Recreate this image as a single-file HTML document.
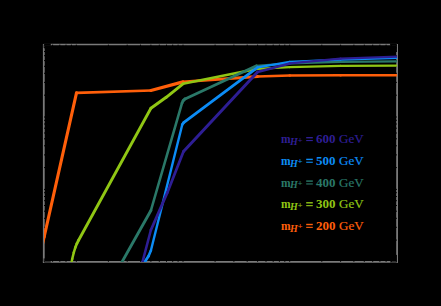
<!DOCTYPE html>
<html><head><meta charset="utf-8">
<style>
html,body{margin:0;padding:0;background:#000;width:441px;height:306px;overflow:hidden}
svg{display:block}
text{font-family:"Liberation Serif",serif}
.t{font-size:13px;font-weight:bold}
.g{font-size:13px;font-weight:normal;stroke-width:0.2;stroke:currentColor}
.m{font-size:11.5px;font-weight:bold}
.s{font-size:10px;font-style:italic;font-weight:bold}
.p{font-size:9px;font-weight:bold}
</style></head><body>
<svg width="441" height="306" viewBox="0 0 441 306">
<rect x="0" y="0" width="441" height="306" fill="#000"/>
<g fill="none" stroke="#7a7a7a">
<line x1="43.8" y1="44.0" x2="43.8" y2="262.79999999999995" stroke-width="1.8"/>
<line x1="397.1" y1="44.0" x2="397.1" y2="262.79999999999995" stroke-width="1.8"/>
<line x1="43.8" y1="44.5" x2="397.1" y2="44.5" stroke-width="1.4"/>
<line x1="42.9" y1="261.9" x2="398.0" y2="261.9" stroke-width="1.8"/>
</g><g stroke="#000" stroke-width="1">
<line x1="44.2" y1="261.79999999999995" x2="44.2" y2="258.4"/>
<line x1="44.2" y1="44.6" x2="44.2" y2="48.0"/>
<line x1="52.6" y1="261.79999999999995" x2="52.6" y2="258.4"/>
<line x1="52.6" y1="44.6" x2="52.6" y2="48.0"/>
<line x1="59.8" y1="261.79999999999995" x2="59.8" y2="258.4"/>
<line x1="59.8" y1="44.6" x2="59.8" y2="48.0"/>
<line x1="66.0" y1="261.79999999999995" x2="66.0" y2="258.4"/>
<line x1="66.0" y1="44.6" x2="66.0" y2="48.0"/>
<line x1="71.4" y1="261.79999999999995" x2="71.4" y2="258.4"/>
<line x1="71.4" y1="44.6" x2="71.4" y2="48.0"/>
<line x1="76.3" y1="261.79999999999995" x2="76.3" y2="254.9"/>
<line x1="76.3" y1="44.6" x2="76.3" y2="51.5"/>
<line x1="108.4" y1="261.79999999999995" x2="108.4" y2="258.4"/>
<line x1="108.4" y1="44.6" x2="108.4" y2="48.0"/>
<line x1="127.2" y1="261.79999999999995" x2="127.2" y2="258.4"/>
<line x1="127.2" y1="44.6" x2="127.2" y2="48.0"/>
<line x1="140.5" y1="261.79999999999995" x2="140.5" y2="258.4"/>
<line x1="140.5" y1="44.6" x2="140.5" y2="48.0"/>
<line x1="150.9" y1="261.79999999999995" x2="150.9" y2="258.4"/>
<line x1="150.9" y1="44.6" x2="150.9" y2="48.0"/>
<line x1="159.3" y1="261.79999999999995" x2="159.3" y2="258.4"/>
<line x1="159.3" y1="44.6" x2="159.3" y2="48.0"/>
<line x1="166.5" y1="261.79999999999995" x2="166.5" y2="258.4"/>
<line x1="166.5" y1="44.6" x2="166.5" y2="48.0"/>
<line x1="172.7" y1="261.79999999999995" x2="172.7" y2="258.4"/>
<line x1="172.7" y1="44.6" x2="172.7" y2="48.0"/>
<line x1="178.1" y1="261.79999999999995" x2="178.1" y2="258.4"/>
<line x1="178.1" y1="44.6" x2="178.1" y2="48.0"/>
<line x1="183.0" y1="261.79999999999995" x2="183.0" y2="254.9"/>
<line x1="183.0" y1="44.6" x2="183.0" y2="51.5"/>
<line x1="215.1" y1="261.79999999999995" x2="215.1" y2="258.4"/>
<line x1="215.1" y1="44.6" x2="215.1" y2="48.0"/>
<line x1="233.9" y1="261.79999999999995" x2="233.9" y2="258.4"/>
<line x1="233.9" y1="44.6" x2="233.9" y2="48.0"/>
<line x1="247.2" y1="261.79999999999995" x2="247.2" y2="258.4"/>
<line x1="247.2" y1="44.6" x2="247.2" y2="48.0"/>
<line x1="257.6" y1="261.79999999999995" x2="257.6" y2="258.4"/>
<line x1="257.6" y1="44.6" x2="257.6" y2="48.0"/>
<line x1="266.0" y1="261.79999999999995" x2="266.0" y2="258.4"/>
<line x1="266.0" y1="44.6" x2="266.0" y2="48.0"/>
<line x1="273.2" y1="261.79999999999995" x2="273.2" y2="258.4"/>
<line x1="273.2" y1="44.6" x2="273.2" y2="48.0"/>
<line x1="279.4" y1="261.79999999999995" x2="279.4" y2="258.4"/>
<line x1="279.4" y1="44.6" x2="279.4" y2="48.0"/>
<line x1="284.8" y1="261.79999999999995" x2="284.8" y2="258.4"/>
<line x1="284.8" y1="44.6" x2="284.8" y2="48.0"/>
<line x1="289.7" y1="261.79999999999995" x2="289.7" y2="254.9"/>
<line x1="289.7" y1="44.6" x2="289.7" y2="51.5"/>
<line x1="321.8" y1="261.79999999999995" x2="321.8" y2="258.4"/>
<line x1="321.8" y1="44.6" x2="321.8" y2="48.0"/>
<line x1="340.6" y1="261.79999999999995" x2="340.6" y2="258.4"/>
<line x1="340.6" y1="44.6" x2="340.6" y2="48.0"/>
<line x1="353.9" y1="261.79999999999995" x2="353.9" y2="258.4"/>
<line x1="353.9" y1="44.6" x2="353.9" y2="48.0"/>
<line x1="364.3" y1="261.79999999999995" x2="364.3" y2="258.4"/>
<line x1="364.3" y1="44.6" x2="364.3" y2="48.0"/>
<line x1="372.7" y1="261.79999999999995" x2="372.7" y2="258.4"/>
<line x1="372.7" y1="44.6" x2="372.7" y2="48.0"/>
<line x1="379.9" y1="261.79999999999995" x2="379.9" y2="258.4"/>
<line x1="379.9" y1="44.6" x2="379.9" y2="48.0"/>
<line x1="386.1" y1="261.79999999999995" x2="386.1" y2="258.4"/>
<line x1="386.1" y1="44.6" x2="386.1" y2="48.0"/>
<line x1="391.5" y1="261.79999999999995" x2="391.5" y2="258.4"/>
<line x1="391.5" y1="44.6" x2="391.5" y2="48.0"/>
<line x1="396.4" y1="261.79999999999995" x2="396.4" y2="254.9"/>
<line x1="396.4" y1="44.6" x2="396.4" y2="51.5"/>
<line x1="44.0" y1="261.9" x2="50.8" y2="261.9"/>
<line x1="396.90000000000003" y1="261.9" x2="390.1" y2="261.9"/>
<line x1="44.0" y1="240.1" x2="47.3" y2="240.1"/>
<line x1="396.90000000000003" y1="240.1" x2="393.6" y2="240.1"/>
<line x1="44.0" y1="227.3" x2="47.3" y2="227.3"/>
<line x1="396.90000000000003" y1="227.3" x2="393.6" y2="227.3"/>
<line x1="44.0" y1="218.3" x2="47.3" y2="218.3"/>
<line x1="396.90000000000003" y1="218.3" x2="393.6" y2="218.3"/>
<line x1="44.0" y1="211.2" x2="47.3" y2="211.2"/>
<line x1="396.90000000000003" y1="211.2" x2="393.6" y2="211.2"/>
<line x1="44.0" y1="205.5" x2="47.3" y2="205.5"/>
<line x1="396.90000000000003" y1="205.5" x2="393.6" y2="205.5"/>
<line x1="44.0" y1="200.7" x2="47.3" y2="200.7"/>
<line x1="396.90000000000003" y1="200.7" x2="393.6" y2="200.7"/>
<line x1="44.0" y1="196.5" x2="47.3" y2="196.5"/>
<line x1="396.90000000000003" y1="196.5" x2="393.6" y2="196.5"/>
<line x1="44.0" y1="192.7" x2="47.3" y2="192.7"/>
<line x1="396.90000000000003" y1="192.7" x2="393.6" y2="192.7"/>
<line x1="44.0" y1="189.4" x2="50.8" y2="189.4"/>
<line x1="396.90000000000003" y1="189.4" x2="390.1" y2="189.4"/>
<line x1="44.0" y1="167.6" x2="47.3" y2="167.6"/>
<line x1="396.90000000000003" y1="167.6" x2="393.6" y2="167.6"/>
<line x1="44.0" y1="154.9" x2="47.3" y2="154.9"/>
<line x1="396.90000000000003" y1="154.9" x2="393.6" y2="154.9"/>
<line x1="44.0" y1="145.8" x2="47.3" y2="145.8"/>
<line x1="396.90000000000003" y1="145.8" x2="393.6" y2="145.8"/>
<line x1="44.0" y1="138.8" x2="47.3" y2="138.8"/>
<line x1="396.90000000000003" y1="138.8" x2="393.6" y2="138.8"/>
<line x1="44.0" y1="133.0" x2="47.3" y2="133.0"/>
<line x1="396.90000000000003" y1="133.0" x2="393.6" y2="133.0"/>
<line x1="44.0" y1="128.2" x2="47.3" y2="128.2"/>
<line x1="396.90000000000003" y1="128.2" x2="393.6" y2="128.2"/>
<line x1="44.0" y1="124.0" x2="47.3" y2="124.0"/>
<line x1="396.90000000000003" y1="124.0" x2="393.6" y2="124.0"/>
<line x1="44.0" y1="120.3" x2="47.3" y2="120.3"/>
<line x1="396.90000000000003" y1="120.3" x2="393.6" y2="120.3"/>
<line x1="44.0" y1="117.0" x2="50.8" y2="117.0"/>
<line x1="396.90000000000003" y1="117.0" x2="390.1" y2="117.0"/>
<line x1="44.0" y1="95.2" x2="47.3" y2="95.2"/>
<line x1="396.90000000000003" y1="95.2" x2="393.6" y2="95.2"/>
<line x1="44.0" y1="82.4" x2="47.3" y2="82.4"/>
<line x1="396.90000000000003" y1="82.4" x2="393.6" y2="82.4"/>
<line x1="44.0" y1="73.3" x2="47.3" y2="73.3"/>
<line x1="396.90000000000003" y1="73.3" x2="393.6" y2="73.3"/>
<line x1="44.0" y1="66.3" x2="47.3" y2="66.3"/>
<line x1="396.90000000000003" y1="66.3" x2="393.6" y2="66.3"/>
<line x1="44.0" y1="60.6" x2="47.3" y2="60.6"/>
<line x1="396.90000000000003" y1="60.6" x2="393.6" y2="60.6"/>
<line x1="44.0" y1="55.7" x2="47.3" y2="55.7"/>
<line x1="396.90000000000003" y1="55.7" x2="393.6" y2="55.7"/>
<line x1="44.0" y1="51.5" x2="47.3" y2="51.5"/>
<line x1="396.90000000000003" y1="51.5" x2="393.6" y2="51.5"/>
<line x1="44.0" y1="47.8" x2="47.3" y2="47.8"/>
<line x1="396.90000000000003" y1="47.8" x2="393.6" y2="47.8"/>
<line x1="44.099999999999994" y1="44.5" x2="50.8" y2="44.5" stroke-width="2.4"/>
<line x1="396.8" y1="44.5" x2="390.1" y2="44.5" stroke-width="2.4"/>
</g>
<defs><clipPath id="c"><rect x="44" y="44.5" width="353.1" height="217.4"/></clipPath></defs>
<defs><clipPath id="c"><rect x="44" y="44.5" width="353.1" height="217.4"/></clipPath></defs>
<g fill="none" stroke-linecap="round" clip-path="url(#c)">
<g stroke="#ff5f0a">
<line x1="30" y1="300" x2="44.2" y2="236.6" stroke-width="3.11"/>
<line x1="44.2" y1="236.6" x2="76.5" y2="92.8" stroke-width="3.11"/>
<line x1="76.5" y1="92.8" x2="150.9" y2="90.5" stroke-width="2.68"/>
<line x1="150.9" y1="90.5" x2="183" y2="81.9" stroke-width="3.18"/>
<line x1="183" y1="81.9" x2="257.6" y2="76.5" stroke-width="2.78"/>
<line x1="257.6" y1="76.5" x2="289.7" y2="75.5" stroke-width="2.68"/>
<line x1="289.7" y1="75.5" x2="340.6" y2="75.3" stroke-width="2.61"/>
<line x1="340.6" y1="75.3" x2="400" y2="75.2" stroke-width="2.60"/>
</g>
<g stroke="#90c614">
<line x1="70.5" y1="268" x2="72.2" y2="259" stroke-width="2.45"/>
<line x1="72.2" y1="259" x2="73.8" y2="252.5" stroke-width="2.54"/>
<line x1="73.8" y1="252.5" x2="75.3" y2="247.5" stroke-width="2.61"/>
<line x1="75.3" y1="247.5" x2="76.9" y2="243.6" stroke-width="2.74"/>
<line x1="76.9" y1="243.6" x2="78.6" y2="240.2" stroke-width="2.82"/>
<line x1="78.6" y1="240.2" x2="150.9" y2="108.3" stroke-width="2.85"/>
<line x1="150.9" y1="108.3" x2="166.2" y2="97.3" stroke-width="2.93"/>
<line x1="166.2" y1="97.3" x2="183" y2="83.8" stroke-width="2.95"/>
<line x1="183" y1="83.8" x2="257.6" y2="68.8" stroke-width="2.47"/>
<line x1="257.6" y1="68.8" x2="289.7" y2="67.1" stroke-width="2.21"/>
<line x1="289.7" y1="67.1" x2="340.6" y2="65.9" stroke-width="2.15"/>
<line x1="340.6" y1="65.9" x2="400" y2="65.6" stroke-width="2.11"/>
</g>
<g stroke="#2a7868">
<line x1="118.6" y1="268" x2="150.9" y2="210.5" stroke-width="2.86"/>
<line x1="150.9" y1="210.5" x2="182" y2="103.2" stroke-width="2.60"/>
<line x1="182" y1="103.2" x2="183.2" y2="100.6" stroke-width="2.79"/>
<line x1="183.2" y1="100.6" x2="185" y2="98.9" stroke-width="2.97"/>
<line x1="185" y1="98.9" x2="256.5" y2="65.8" stroke-width="2.79"/>
<line x1="256.5" y1="65.8" x2="289.7" y2="63.4" stroke-width="2.25"/>
<line x1="289.7" y1="63.4" x2="340.6" y2="61.9" stroke-width="2.16"/>
<line x1="340.6" y1="61.9" x2="400" y2="61.4" stroke-width="2.12"/>
</g>
<g stroke="#0c8cf5">
<line x1="140.6" y1="268" x2="145" y2="261.5" stroke-width="2.78"/>
<line x1="145" y1="261.5" x2="148.6" y2="256" stroke-width="2.77"/>
<line x1="148.6" y1="256" x2="150.9" y2="250.5" stroke-width="2.62"/>
<line x1="150.9" y1="250.5" x2="182.3" y2="124.5" stroke-width="2.42"/>
<line x1="182.3" y1="124.5" x2="183.6" y2="122.7" stroke-width="2.79"/>
<line x1="183.6" y1="122.7" x2="257.6" y2="67.3" stroke-width="2.80"/>
<line x1="257.6" y1="67.3" x2="289.7" y2="61.8" stroke-width="2.31"/>
<line x1="289.7" y1="61.8" x2="340.6" y2="59.6" stroke-width="2.08"/>
<line x1="340.6" y1="59.6" x2="400" y2="57.8" stroke-width="2.06"/>
</g>
<g stroke="#2e1e94">
<line x1="140.9" y1="268" x2="150.9" y2="230" stroke-width="2.57"/>
<line x1="150.9" y1="230" x2="167.4" y2="192.4" stroke-width="2.77"/>
<line x1="167.4" y1="192.4" x2="183.5" y2="151.5" stroke-width="2.72"/>
<line x1="183.5" y1="151.5" x2="257.6" y2="72" stroke-width="2.97"/>
<line x1="257.6" y1="72" x2="289.7" y2="63.4" stroke-width="2.57"/>
<line x1="289.7" y1="63.4" x2="340.6" y2="58.6" stroke-width="2.29"/>
<line x1="340.6" y1="58.6" x2="400" y2="56.5" stroke-width="2.17"/>
</g>
</g>
<g fill="#2e1e94" style="color:#2e1e94">
<text x="281" y="143.3" class="m">m</text>
<text x="290" y="144.8" class="s">H</text>
<text x="297.6" y="142.5" class="p">+</text>
<rect x="306.2" y="137.0" width="6.6" height="1.4"/>
<rect x="306.2" y="140.0" width="6.6" height="1.1"/>
<text x="316" y="143.3" class="t">600</text>
<text x="339" y="143.3" class="g">GeV</text>
</g>
<g fill="#0c8cf5" style="color:#0c8cf5">
<text x="281" y="165" class="m">m</text>
<text x="290" y="166.5" class="s">H</text>
<text x="297.6" y="164.2" class="p">+</text>
<rect x="306.2" y="158.7" width="6.6" height="1.4"/>
<rect x="306.2" y="161.7" width="6.6" height="1.1"/>
<text x="316" y="165" class="t">500</text>
<text x="339" y="165" class="g">GeV</text>
</g>
<g fill="#2a7868" style="color:#2a7868">
<text x="281" y="186.7" class="m">m</text>
<text x="290" y="188.2" class="s">H</text>
<text x="297.6" y="185.9" class="p">+</text>
<rect x="306.2" y="180.4" width="6.6" height="1.4"/>
<rect x="306.2" y="183.4" width="6.6" height="1.1"/>
<text x="316" y="186.7" class="t">400</text>
<text x="339" y="186.7" class="g">GeV</text>
</g>
<g fill="#90c614" style="color:#90c614">
<text x="281" y="208.4" class="m">m</text>
<text x="290" y="209.9" class="s">H</text>
<text x="297.6" y="207.6" class="p">+</text>
<rect x="306.2" y="202.1" width="6.6" height="1.4"/>
<rect x="306.2" y="205.1" width="6.6" height="1.1"/>
<text x="316" y="208.4" class="t">300</text>
<text x="339" y="208.4" class="g">GeV</text>
</g>
<g fill="#ff5f0a" style="color:#ff5f0a">
<text x="281" y="230.1" class="m">m</text>
<text x="290" y="231.6" class="s">H</text>
<text x="297.6" y="229.3" class="p">+</text>
<rect x="306.2" y="223.8" width="6.6" height="1.4"/>
<rect x="306.2" y="226.8" width="6.6" height="1.1"/>
<text x="316" y="230.1" class="t">200</text>
<text x="339" y="230.1" class="g">GeV</text>
</g>
</svg>
</body></html>
